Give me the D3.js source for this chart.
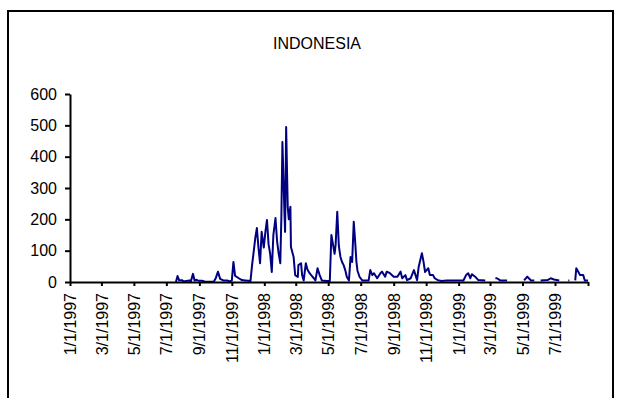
<!DOCTYPE html>
<html>
<head>
<meta charset="utf-8">
<script src="https://cdn.jsdelivr.net/npm/d3@7"></script>
<style>
  html, body { margin: 0; padding: 0; background: #fff; }
  svg { display: block; font-family: "Liberation Sans", Arial, sans-serif; }
</style>
</head>
<body>
<svg id="chart" width="623" height="398"></svg>
<script>
const title = "INDONESIA";

const dates = [
  "1997-07-19","1997-07-22","1997-07-25","1997-07-30","1997-08-02","1997-08-13","1997-08-16","1997-08-20",
  "1997-08-23","1997-08-27","1997-08-30","1997-09-06","1997-09-12","1997-09-28","1997-10-02","1997-10-06",
  "1997-10-10","1997-10-16","1997-10-23","1997-10-29","1997-11-01","1997-11-04","1997-11-07","1997-11-14",
  "1997-11-20","1997-11-26","1997-12-02","1997-12-06","1997-12-09","1997-12-12","1997-12-15","1997-12-18",
  "1997-12-21","1997-12-24","1997-12-27","1997-12-31","1998-01-03","1998-01-06","1998-01-09","1998-01-12",
  "1998-01-15","1998-01-18","1998-01-22","1998-01-25","1998-01-28","1998-01-31","1998-02-02","1998-02-04",
  "1998-02-08","1998-02-09","1998-02-11","1998-02-14","1998-02-16","1998-02-19","1998-02-20","1998-02-25",
  "1998-02-28","1998-03-05","1998-03-06","1998-03-11","1998-03-13","1998-03-16","1998-03-20","1998-03-23",
  "1998-03-27","1998-03-30","1998-04-04","1998-04-07","1998-04-11","1998-04-15","1998-04-19","1998-04-29",
  "1998-05-04","1998-05-07","1998-05-10","1998-05-13","1998-05-15","1998-05-18","1998-05-21","1998-05-24",
  "1998-05-27","1998-05-30","1998-06-02","1998-06-05","1998-06-09","1998-06-12","1998-06-15","1998-06-18",
  "1998-06-21","1998-06-23","1998-06-25","1998-06-29","1998-07-04","1998-07-16","1998-07-19","1998-07-23",
  "1998-07-26","1998-08-01","1998-08-07","1998-08-10","1998-08-16","1998-08-19","1998-08-25","1998-09-01",
  "1998-09-08","1998-09-14","1998-09-17","1998-09-23","1998-09-26","1998-10-03","1998-10-09","1998-10-12",
  "1998-10-15","1998-10-18","1998-10-24","1998-10-27","1998-10-30","1998-11-02","1998-11-05","1998-11-08",
  "1998-11-14","1998-11-17","1998-11-23","1998-11-30","1998-12-10","1998-12-19","1999-01-10","1999-01-15",
  "1999-01-19","1999-01-23","1999-01-26","1999-02-01","1999-02-07","1999-02-20","1999-02-27","1999-03-11",
  "1999-03-14","1999-03-20","1999-04-02","1999-04-15","1999-05-04","1999-05-10","1999-05-17","1999-05-23",
  "1999-05-28","1999-06-04","1999-06-17","1999-06-23","1999-06-29","1999-07-09","1999-07-18","1999-07-26",
  "1999-07-28","1999-08-02","1999-08-08","1999-08-10","1999-08-14","1999-08-17","1999-08-23","1999-08-26",
  "1999-09-01"
];

const values = [
  0,19,5,6,2,5,2,26,
  5,7,4,4,1,1,13,33,
  10,5,5,2,5,64,20,12,
  6,5,4,3,54,96,140,172,
  110,60,160,110,160,198,120,90,
  32,150,204,130,90,60,204,447,
  210,160,495,240,200,240,112,80,
  22,16,54,60,22,5,60,40,
  28,22,12,5,44,22,5,3,
  3,150,120,90,120,224,115,80,
  64,54,38,16,5,80,64,192,
  120,64,36,16,5,5,38,22,
  28,12,28,33,17,33,28,17,
  17,33,12,22,6,12,38,22,
  6,49,92,65,32,38,44,22,
  22,12,6,3,5,5,5,22,
  28,12,25,17,6,5,null,12,
  12,5,5,null,5,17,5,5,
  null,5,6,12,8,5,null,5,
  5,null,5,44,32,22,22,5,
  5
];

const xTickDates = ["1997-01-01","1997-03-01","1997-05-01","1997-07-01","1997-09-01","1997-11-01",
  "1998-01-01","1998-03-01","1998-05-01","1998-07-01","1998-09-01","1998-11-01",
  "1999-01-01","1999-03-01","1999-05-01","1999-07-01","1999-09-01"];
const xTickLabels = ["1/1/1997","3/1/1997","5/1/1997","7/1/1997","9/1/1997","11/1/1997",
  "1/1/1998","3/1/1998","5/1/1998","7/1/1998","9/1/1998","11/1/1998",
  "1/1/1999","3/1/1999","5/1/1999","7/1/1999",""];
const yTicks = [0,100,200,300,400,500,600];
const xDomain = ["1997-01-01","1999-09-01"];

const parse = d3.timeParse("%Y-%m-%d");
const data = dates.map((d, i) => ({ date: parse(d), v: values[i] }));

const svg = d3.select("#chart");

// outer frame
svg.append("rect")
  .attr("x", 8).attr("y", 11).attr("width", 605).attr("height", 420)
  .attr("fill", "none").attr("stroke", "#000").attr("stroke-width", 2);

svg.append("text")
  .attr("x", 317).attr("y", 49)
  .attr("text-anchor", "middle")
  .attr("font-size", 16)
  .attr("fill", "#000")
  .text(title);

const x = d3.scaleTime().domain(xDomain.map(parse)).range([70, 588]);
const y = d3.scaleLinear().domain([0, 600]).range([282, 94]);

const line = d3.line()
  .defined(d => d.v != null)
  .x(d => x(d.date))
  .y(d => y(d.v));

svg.append("path")
  .datum(data)
  .attr("d", line)
  .attr("fill", "none")
  .attr("stroke", "#000080")
  .attr("stroke-width", 2)
  .attr("stroke-linejoin", "round");

// y axis
const yAxis = svg.append("g")
  .attr("transform", "translate(70,0)")
  .call(d3.axisLeft(y).tickValues(yTicks).tickSize(5).tickSizeOuter(0).tickPadding(8).tickFormat(d3.format("d")));
yAxis.selectAll("text").attr("font-size", 16).attr("font-family", "Liberation Sans, Arial, sans-serif").attr("fill", "#000");
yAxis.selectAll("line, path").attr("stroke", "#000").attr("stroke-width", 2);

// x axis
const xAxis = svg.append("g")
  .attr("transform", "translate(0,282)")
  .call(d3.axisBottom(x)
    .tickValues(xTickDates.map(parse))
    .tickSize(4).tickSizeOuter(0)
    .tickFormat((d, i) => xTickLabels[i]));
xAxis.selectAll("text")
  .attr("font-size", 16)
  .attr("font-family", "Liberation Sans, Arial, sans-serif")
  .attr("fill", "#000")
  .attr("transform", "rotate(-90)")
  .attr("text-anchor", "end")
  .attr("x", -11)
  .attr("y", 0)
  .attr("dy", "0.35em");
xAxis.selectAll("line, path").attr("stroke", "#000").attr("stroke-width", 2);
</script>
</body>
</html>
